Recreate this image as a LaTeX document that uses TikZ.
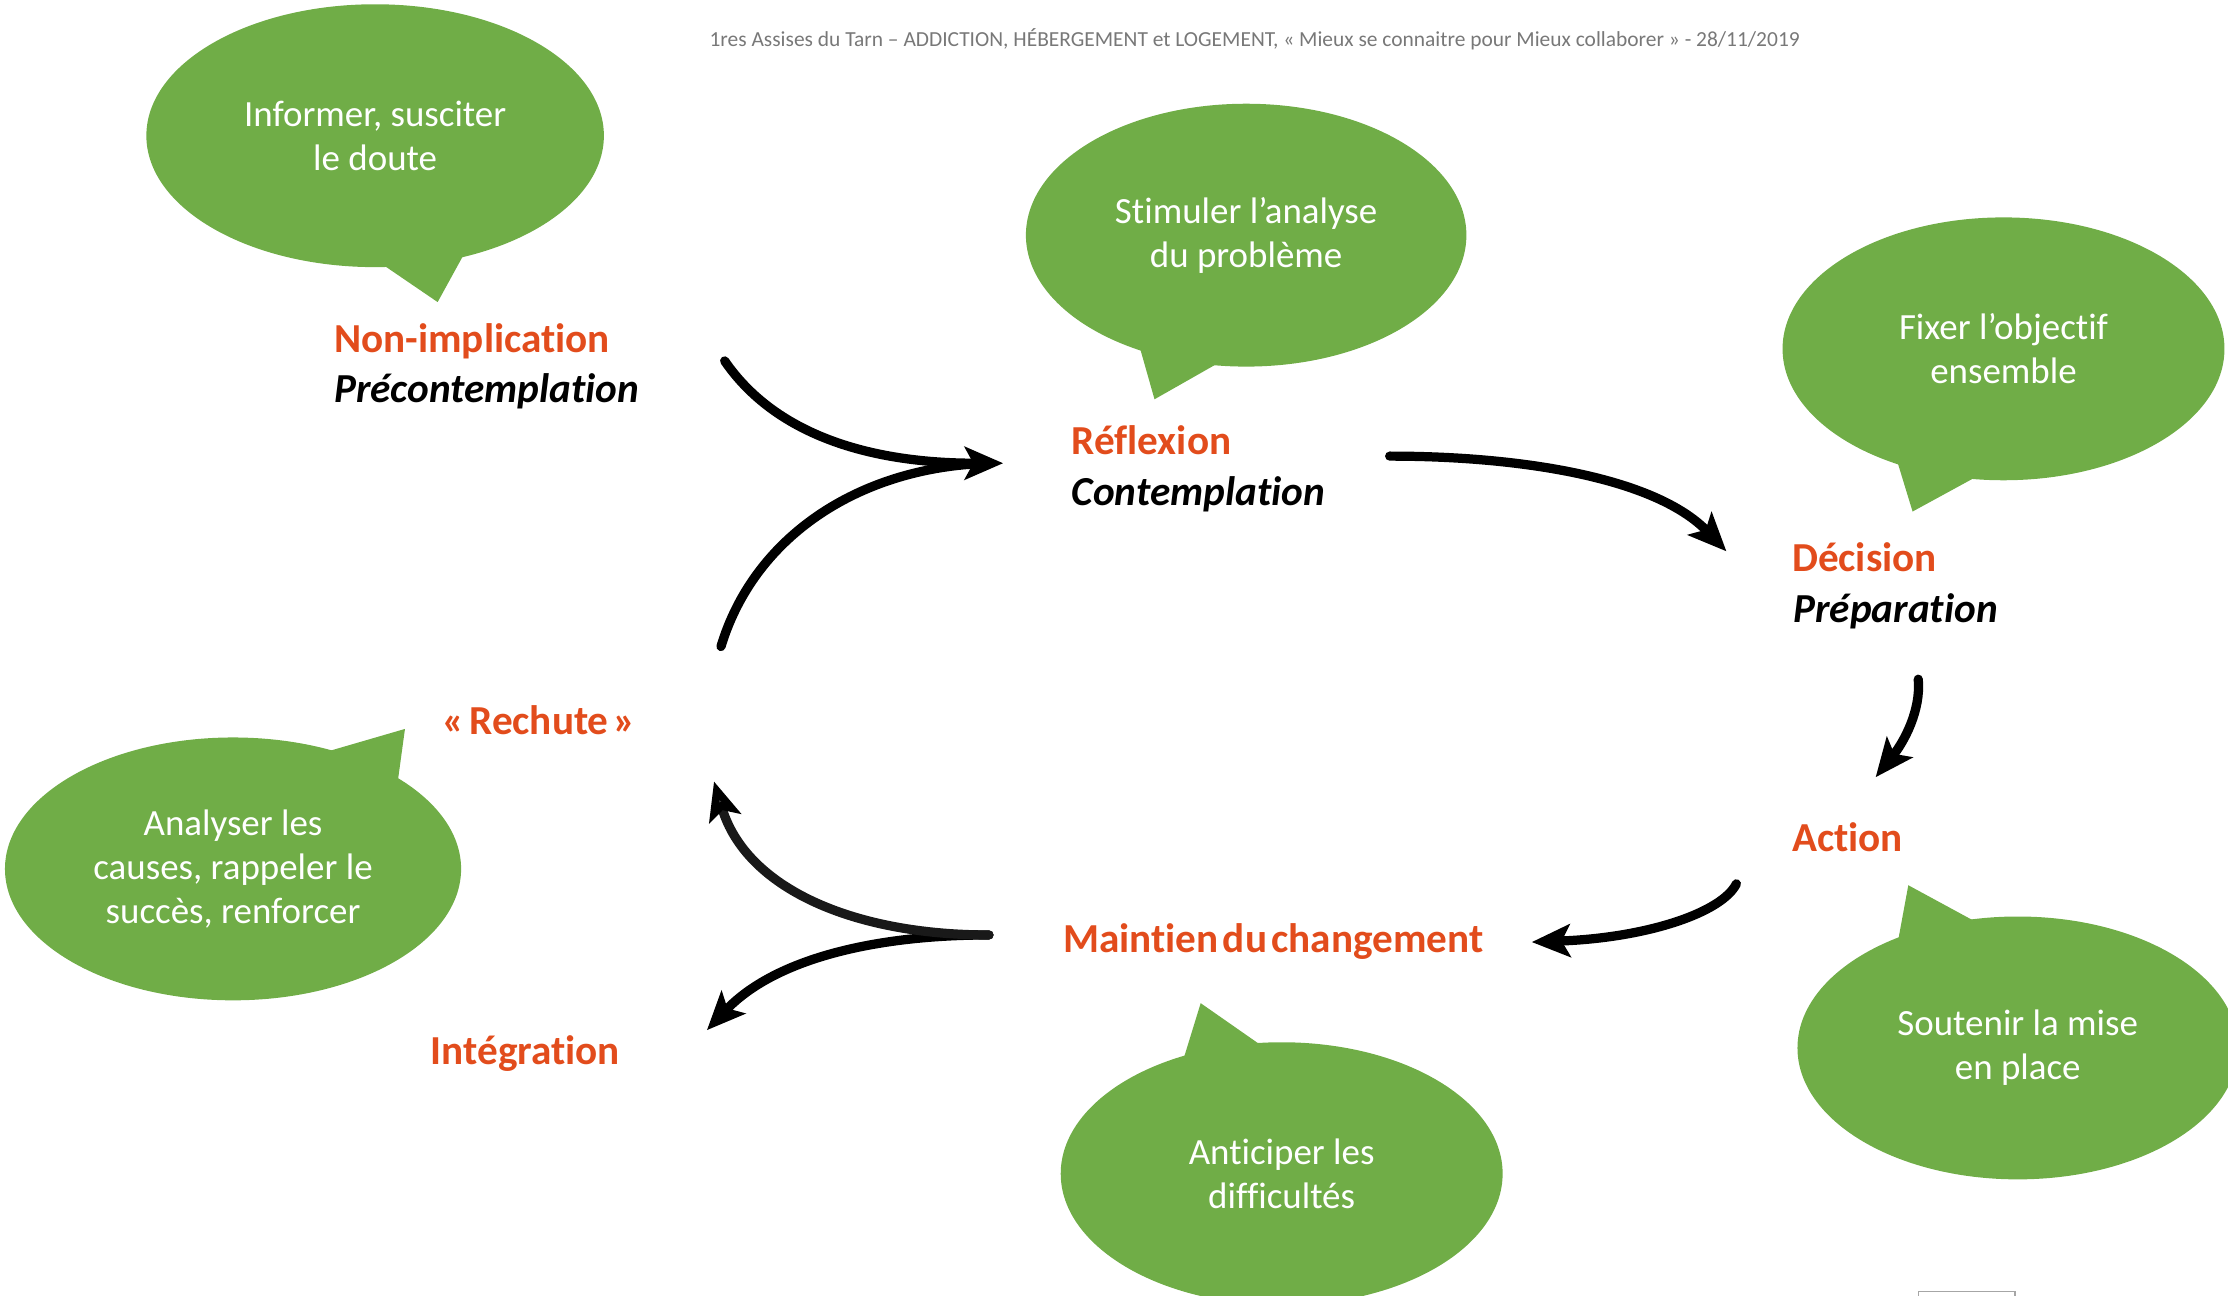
\documentclass[tikz,border=0pt]{standalone}
\usepackage{fontspec}
\setmainfont{Carlito}[Ligatures=NoCommon]
\usetikzlibrary{arrows.meta,shapes.geometric}
\definecolor{bgreen}{RGB}{112,173,71}
\definecolor{lorange}{RGB}{226,76,28}
\definecolor{hgray}{RGB}{120,120,120}
\begin{document}
\begin{tikzpicture}[x=1pt,y=-1pt,
  bubble/.style={ellipse, fill=bgreen, inner sep=0pt, text=white, align=center,
    font=\fontsize{26}{31}\selectfont},
  tail/.style={fill=bgreen},
  stage/.style={anchor=base west, inner sep=0pt, text=lorange,
    font=\fontsize{29}{35}\selectfont\bfseries},
  sub/.style={anchor=base west, inner sep=0pt, text=black,
    font=\fontsize{29}{35}\selectfont\bfseries\itshape},
  arr/.style={line width=6.5pt, line cap=round,
    -{Stealth[length=27pt,width=23pt,inset=6pt]}},
  arrnotip/.style={line width=6.5pt, line cap=round}
]
\useasboundingbox (0,0) rectangle (1568,912);

% header
\node[anchor=base, inner sep=0pt, text=hgray, font=\fontsize{15.1}{18}\selectfont] (hdr) at (883,33)
  {1res Assises du Tarn – ADDICTION, HÉBERGEMENT et LOGEMENT, « Mieux se connaitre pour Mieux collaborer » - 28/11/2019};

% bubble tails
\fill[tail] (269,186) -- (308,212.6) -- (327,178) -- cycle;
\fill[tail] (802,244) -- (812.5,281) -- (856.5,256) -- cycle;
\fill[tail] (1335,324) -- (1346,360) -- (1390,336) -- cycle;
\fill[tail] (230,529) -- (285,513) -- (280,549.5) -- cycle;
\fill[tail] (1336,661) -- (1343,623) -- (1390,648.5) -- cycle;
\fill[tail] (833,745) -- (845,706) -- (888,736) -- cycle;

% bubbles
\node[bubble, minimum width=322, minimum height=185] (b1) at (264,95.5) {Informer, susciter\\le doute};
\node[bubble, minimum width=310, minimum height=185] (b2) at (877,165.5) {Stimuler l’analyse\\du problème};
\node[bubble, minimum width=311, minimum height=185] (b3) at (1410,245.5) {Fixer l’objectif\\ensemble};
\node[bubble, minimum width=321, minimum height=185] (b4) at (164,611.5) {Analyser les\\causes, rappeler le\\succès, renforcer};
\node[bubble, minimum width=310, minimum height=185] (b5) at (1420,737.5) {Soutenir la mise\\en place};
\node[bubble, minimum width=311, minimum height=185] (b6) at (902,826) {Anticiper les\\difficultés};

% stage labels
\node[stage] (s1) at (235,248) {Non-implication};
\node[sub]   (s1b) at (235,283) {Précontemplation};
\node[stage] (s2) at (754,320) {Réflexion};
\node[sub]   (s2b) at (754,356) {Contemplation};
\node[stage] (s3) at (1261,402) {Décision};
\node[sub]   (s3b) at (1262,438) {Préparation};
\node[stage] (s4) at (1261,599) {Action};
\node[stage] (s5) at (748,670) {Maintien\hspace{3pt}du\hspace{3pt}changement};
\node[stage] (s6) at (311,517) {«\hspace{3.5pt}Rechute\hspace{3.5pt}»};
\node[stage] (s7) at (303,749) {Intégration};

% arrow end points
\coordinate (aS) at (510,254);
\coordinate (bS) at (507.4,455);
\coordinate (abE) at (706,326);
\coordinate (bE) at (686,326.5);
\coordinate (cS) at (978,321);
\coordinate (cE) at (1215,388);
\coordinate (dS) at (1350,478);
\coordinate (dE) at (1320,547);
\coordinate (eS) at (1222,622);
\coordinate (eE) at (1078,663);
\coordinate (fgS) at (696,658);
\coordinate (fE) at (497.5,725);
\coordinate (gE) at (502.5,550);

% arrows
\draw[arrnotip] (bS) .. controls (530,380) and (600,332) .. (bE);
\draw[arr] (aS) .. controls (545,305) and (610,326) .. (abE);
\draw[arr] (cS) .. controls (1070,321) and (1165,336) .. (cE);
\draw[arr] (dS) .. controls (1352,500) and (1340,522) .. (dE);
\draw[arr] (eS) .. controls (1212,642) and (1160,660) .. (eE);
\draw[arr] (fgS) .. controls (615,658) and (545,675) .. (fE);
\draw[line width=6.5pt, line cap=round, draw=black!90,
  -{Stealth[length=27pt,width=23pt,inset=6pt,color=black,fill=black!75]}]
  (fgS) .. controls (600,658) and (525,625) .. (gE);

% small gray frame at bottom right
\draw[draw=black!35, line width=1pt] (1350,909) rectangle (1418,930);
\end{tikzpicture}
\end{document}
